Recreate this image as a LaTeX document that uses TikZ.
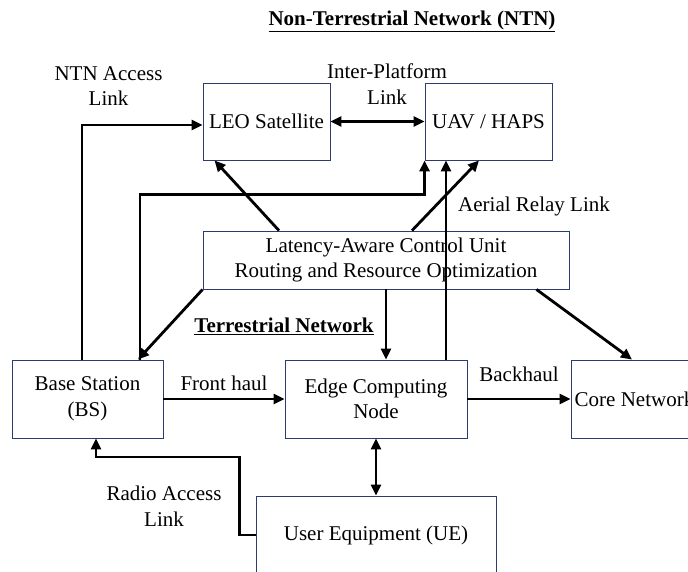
\documentclass[tikz,border=0pt]{standalone}
\usepackage{fontspec}
\setmainfont{Liberation Serif}
\usepackage{tikz}
\usetikzlibrary{arrows.meta, positioning, calc}
\definecolor{BoxNavy}{HTML}{2E3B6E}

\begin{document}
\begin{tikzpicture}[
  x=1pt, y=-1pt,
  font=\fontsize{21}{25.5}\selectfont,
  block/.style={rectangle, draw=BoxNavy, line width=0.9pt, align=center,
    inner sep=0pt},
  link/.style={line width=2.8pt, -{Triangle[length=11pt, width=10pt]}},
  biline/.style={line width=2.8pt,
    {Triangle[length=11pt, width=10pt]}-{Triangle[length=11pt, width=10pt]}},
  lbl/.style={align=center, inner sep=0pt},
  heading/.style={font=\fontsize{21}{25.5}\selectfont\bfseries, inner sep=0pt}
]

% Page frame
\path[use as bounding box, fill=white] (0,0) rectangle (688,571);

% Headings
\node[heading] (ntntitle) at (412,21) {\underline{Non-Terrestrial Network (NTN)}};
\node[heading] (terrtitle) at (284,326) {\underline{Terrestrial Network}};

% NTN platforms
\node[block, minimum width=127, minimum height=77] (leo) at (266.5,121.5) {LEO Satellite};
\node[block, minimum width=127, minimum height=77] (uav) at (488.5,121.5) {UAV / HAPS};

% Control unit
\node[block, minimum width=366, minimum height=58] (ctrl) at (386,260)
  {Latency-Aware Control Unit\\Routing and Resource Optimization};

% Terrestrial nodes
\node[block, minimum width=151, minimum height=78] (bs)   at (87.5,399) {Base Station\\(BS)};
\node[block, minimum width=182, minimum height=78] (edge) at (376,399)  {Edge Computing\\Node};
\node[block, minimum width=127, minimum height=78] (core) at (634.5,399) {Core Network};
\node[block, minimum width=240, minimum height=78] (ue)   at (376,535)  {User Equipment (UE)};

% Link labels
\node[lbl] (ntnlbl)   at (108.5,86) {NTN Access\\Link};
\node[lbl] (iplbl)    at (387,84)   {Inter-Platform\\Link};
\node[lbl] (relaylbl) at (534,206)  {Aerial Relay Link};
\node[lbl] (frontlbl) at (224,383)  {Front haul};
\node[lbl] (backlbl)  at (519,374)  {Backhaul};
\node[lbl] (radiolbl) at (164,506)  {Radio Access\\Link};

% NTN links
\draw[biline] (leo) -- (uav);
\draw[link] ([xshift=-5.5]bs.north) |- ([yshift=-3.5]leo.west);
\draw[link] ([xshift=52.5]bs.north) -- ++(0,-165) -| (uav.south west);
\draw[link] ([xshift=70]edge.north) -- ([xshift=70]edge.north |- uav.south);

% Control unit links
\draw[link] ([xshift=-107]ctrl.north) -- ([xshift=-52]leo.south);
\draw[link] ([xshift=26]ctrl.north) -- ([xshift=-9.5]uav.south);
\draw[link] (ctrl.south west) -- ([xshift=50.5]bs.north);
\draw[link] (ctrl.south) -- (ctrl.south |- edge.north);
\draw[link] ([xshift=-33]ctrl.south east) -- ([xshift=-2.5]core.north);

% Terrestrial links
\draw[link] (bs) -- (edge);
\draw[link] (edge) -- (core);
\draw[biline] (edge) -- (ue);
\draw[link] (ue.west) -- ++(-16,0) -- ++(0,-78) -| ([xshift=8.5]bs.south);

\end{tikzpicture}
\end{document}
